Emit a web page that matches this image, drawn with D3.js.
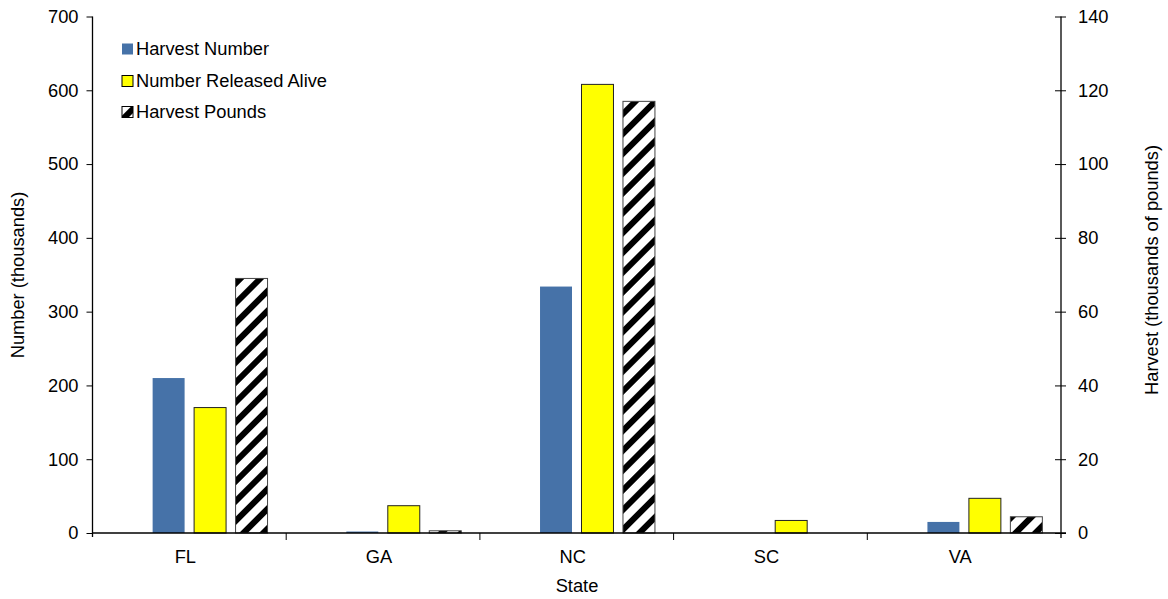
<!DOCTYPE html>
<html><head><meta charset="utf-8">
<script src="https://cdn.jsdelivr.net/npm/d3@7"></script>
<style>body{margin:0;background:#fff}text{font-family:"Liberation Sans",Arial,sans-serif;fill:#000}</style>
</head><body>
<svg id="c" width="1168" height="599"></svg>
<script>
const states = ["FL","GA","NC","SC","VA"];
const harvestNumber = [210, 2, 334, 0, 15];
const releasedAlive = [170, 37, 608, 17, 47];
const harvestPounds = [69, 0.6, 117, 0, 4.4];
const leftTicks = [0,100,200,300,400,500,600,700];
const rightTicks = [0,20,40,60,80,100,120,140];
const seriesNames = ["Harvest Number","Number Released Alive","Harvest Pounds"];

const svg = d3.select("#c");
const L = 92.5, R = 1061, T = 16.5, B = 533;
const fs = "18.3px";

const defs = svg.append("defs");
const pat = defs.append("pattern").attr("id","hatch").attr("patternUnits","userSpaceOnUse")
  .attr("width",14).attr("height",14).attr("patternTransform","rotate(45)");
pat.append("rect").attr("width",14).attr("height",14).attr("fill","#fff");
pat.append("rect").attr("x",0).attr("width",6).attr("height",14).attr("fill","#000");

const x0 = d3.scaleBand().domain(states).range([L, R]).padding(0);
const bw = x0.bandwidth();
const step = bw * 0.2141;
const x1 = d3.scaleBand().domain(["_", ...seriesNames])
  .range([bw/2 - 2*step, bw/2 + 2*step]).paddingInner(0.229).paddingOuter(0.1145);
const yL = d3.scaleLinear().domain([0,700]).range([B, T]);
const yR = d3.scaleLinear().domain([0,140]).range([B, T]);

const styles = [
  {fill:"#4672a8", stroke:"none", y:yL, data:harvestNumber},
  {fill:"#ffff00", stroke:"#222", y:yL, data:releasedAlive},
  {fill:"url(#hatch)", stroke:"#444", y:yR, data:harvestPounds}
];

styles.forEach((s, si) => {
  svg.append("g").selectAll("rect").data(states.map((st,i)=>({st, v:s.data[i]})))
    .join("rect")
    .filter(d => d.v > 0)
    .attr("x", d => x0(d.st) + x1(seriesNames[si]))
    .attr("width", x1.bandwidth())
    .attr("y", d => s.y(d.v))
    .attr("height", d => B - s.y(d.v))
    .attr("fill", s.fill)
    .attr("stroke", s.stroke)
    .attr("stroke-width", 1);
});

// Left axis
const gl = svg.append("g").attr("transform",`translate(${L},0)`)
  .call(d3.axisLeft(yL).tickValues(leftTicks).tickSize(6).tickPadding(8));
gl.select(".domain").attr("d",`M0,${T}V${B+4}`).attr("stroke","#000").attr("stroke-width",1.3);
gl.selectAll(".tick line").attr("stroke","#000");
gl.selectAll("text").style("font-size",fs);

// Right axis
const gr = svg.append("g").attr("transform",`translate(${R},0)`)
  .call(d3.axisRight(yR).tickValues(rightTicks).tickSize(5).tickPadding(12));
gr.select(".domain").attr("d",`M0,${T}V${B+5}`).attr("stroke","#000").attr("stroke-width",1.3);
gr.selectAll(".tick line").attr("x1",-6).attr("stroke","#000");
gr.selectAll("text").style("font-size",fs);

// Bottom axis
svg.append("line").attr("x1",L).attr("x2",R+5).attr("y1",B).attr("y2",B).attr("stroke","#000").attr("stroke-width",1.3);
const gb = svg.append("g");
gb.selectAll("line.div").data(states.slice(1)).join("line")
  .attr("x1", d => x0(d)).attr("x2", d => x0(d)).attr("y1", B).attr("y2", B+7).attr("stroke","#000");
gb.selectAll("text").data(states).join("text")
  .attr("x", d => x0(d) + bw/2 - 4).attr("y", 563).attr("text-anchor","middle").style("font-size",fs).text(d=>d);

// Axis titles
svg.append("text").attr("x",577).attr("y",592).attr("text-anchor","middle").style("font-size",fs).text("State");
svg.append("text").attr("transform","translate(24,275) rotate(-90)").attr("text-anchor","middle").style("font-size",fs).text("Number (thousands)");
svg.append("text").attr("transform","translate(1158,270) rotate(-90)").attr("text-anchor","middle").style("font-size",fs).text("Harvest (thousands of pounds)");

// Legend
const lg = svg.append("g");
const ly = [49, 81, 112];
seriesNames.forEach((n,i) => {
  lg.append("rect").attr("x",122).attr("y",ly[i]-5.5).attr("width",11).attr("height",11)
    .attr("fill", styles[i].fill).attr("stroke", i===0 ? "none" : "#000");
  lg.append("text").attr("x",136).attr("y",ly[i]+6).style("font-size",fs).text(n);
});
</script>
</body></html>
